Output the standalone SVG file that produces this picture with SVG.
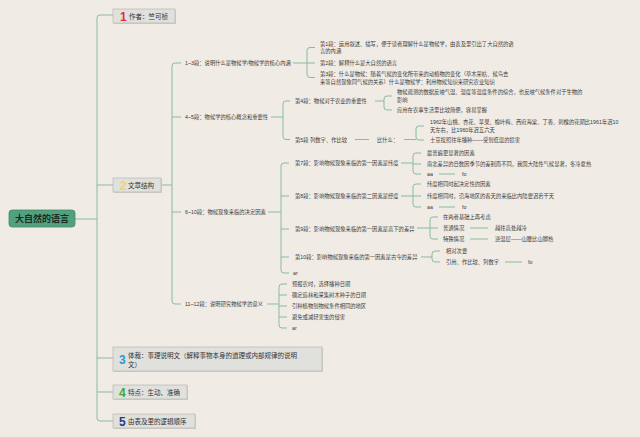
<svg xmlns="http://www.w3.org/2000/svg" width="640" height="437" viewBox="0 0 640 437">
<style>
text{font-family:"Liberation Sans","Noto Sans CJK SC",sans-serif;dominant-baseline:central;fill:#3a3a3a}
.s{font-size:5.3px}
.m{font-size:6.5px;fill:#333}
.n{font-size:12px;font-weight:bold}
.c path{fill:none;stroke:#86bd9f;stroke-width:1}
.box{fill:#e0e0dd;stroke:#bcbcb8;stroke-width:0.8}
.sh{fill:#cfcdc7}
</style>
<rect width="640" height="437" fill="#f0ece5"/>
<g class="c" id="connectors">
<path d="M75 219H97"/>
<path d="M113 15H100Q97 15 97 18V418Q97 421 100 421H113M97 185H113M97 358H113M97 392H113"/>
<path d="M161 185H172"/>
<path d="M181 63H175Q172 63 172 66V301Q172 304 175 304H181M172 117H181M172 212H181"/>
<path d="M293 63H307"/>
<path d="M315 47.5H310Q307 47.5 307 50.5V74.5Q307 77.5 310 77.5H315M307 63H315"/>
<path d="M271 117H283"/>
<path d="M290 101H286Q283 101 283 104V136.5Q283 139.5 286 139.5H290"/>
<path d="M375 101H384"/>
<path d="M392 96H387Q384 96 384 99V107Q384 110 387 110H392"/>
<path d="M355 139.5H369M404 139.5H416"/>
<path d="M424 126H419Q416 126 416 129V137Q416 140 419 140H424"/>
<path d="M268 212H281"/>
<path d="M289 163H284Q281 163 281 166V270Q281 273 284 273H289M281 196H289M281 229H289M281 257H289"/>
<path d="M401 163H413"/>
<path d="M421 153H416Q413 153 413 156V171Q413 174 416 174H421M413 164H421"/>
<path d="M439 174H455"/>
<path d="M401 196H413"/>
<path d="M421 184H416Q413 184 413 187V204Q413 207 416 207H421M413 196H421"/>
<path d="M439 207H455"/>
<path d="M417 228H430"/>
<path d="M438 217H433Q430 217 430 220V236Q430 239 433 239H438M430 228H438"/>
<path d="M470 228H488M470 239H488"/>
<path d="M421 257H432"/>
<path d="M440 251H435Q432 251 432 254V259Q432 262 435 262H440"/>
<path d="M505 262H522"/>
<path d="M267 304H279"/>
<path d="M287 284H282Q279 284 279 287V325Q279 328 282 328H287M279 295H287M279 306H287M279 317H287"/>
</g>
<g id="root">
<rect x="9" y="210" width="66" height="17" rx="3" fill="#52a07e" stroke="#418c6b" stroke-width="0.8"/>
<text x="42" y="219" text-anchor="middle" style="font-size:9px;font-weight:bold;fill:#1b2a22">大自然的语言</text>
</g>
<g id="b1">
<rect class="sh" x="114" y="10" width="62" height="14"/>
<rect class="box" x="113" y="9" width="62" height="14"/>
<text class="n" x="120" y="16.5" style="fill:#e52b3d">1</text>
<text class="m" x="129" y="16">作者：竺可桢</text>
</g>
<g id="b2">
<rect class="sh" x="114" y="179" width="48" height="14"/>
<rect class="box" x="113" y="178" width="48" height="14"/>
<text class="n" x="120" y="185.5" style="fill:#f2d46b">2</text>
<text class="m" x="128" y="185">文章结构</text>
</g>
<g id="b3">
<rect class="sh" x="114" y="348" width="209" height="24"/>
<rect class="box" x="113" y="347" width="209" height="24"/>
<text class="n" x="119" y="360" style="fill:#2c97d8">3</text>
<text class="m" x="128" y="355">体裁：事理说明文（解释事物本身的道理或内部规律的说明</text>
<text class="m" x="128" y="364">文）</text>
</g>
<g id="b4">
<rect class="sh" x="114" y="386" width="74" height="14"/>
<rect class="box" x="113" y="385" width="74" height="14"/>
<text class="n" x="119" y="392.5" style="fill:#3ea83a">4</text>
<text class="m" x="128" y="392">特点：生动、准确</text>
</g>
<g id="b5">
<rect class="sh" x="114" y="415" width="82" height="14"/>
<rect class="box" x="113" y="414" width="82" height="14"/>
<text class="n" x="119" y="421.5" style="fill:#1f3c8c">5</text>
<text class="m" x="128" y="421">由表及里的逻辑顺序</text>
</g>
<g id="p13">
<text class="s" x="185" y="63">1~3段：说明什么是物候学/物候学的核心内涵</text>
<text class="s" x="320" y="44">第1段：运用叙述、描写，便于读者理解什么是物候学，由表及里引出了大自然的语</text>
<text class="s" x="320" y="51">言的内涵</text>
<text class="s" x="320" y="63">第2段：解释什么是大自然的语言</text>
<text class="s" x="320" y="73.5">第3段：什么是物候：随着气候的变化所带来的动植物的变化（草木荣枯、候鸟去</text>
<text class="s" x="320" y="81.5">来等自然现象同气候的关系）什么是物候学：利用物候知识来研究农业知识</text>
</g>
<g id="p45">
<text class="s" x="185" y="117">4~5段：物候学的核心概念和重要性</text>
<text class="s" x="295" y="101">第4段：物候对于农业的重要性</text>
<text class="s" x="397" y="92">物候观测的数据反映气温、湿度等温度条件的综合，也反映气候条件对于生物的</text>
<text class="s" x="397" y="100">影响</text>
<text class="s" x="397" y="110">应用在农事生活里比较简便，容易掌握</text>
<text class="s" x="295" y="139.5">第5段 列数字、作比较</text>
<text class="s" x="377" y="139.5">比什么：</text>
<text class="s" x="430" y="122">1962年山桃、杏花、苹果、榆叶梅、西府海棠、丁香、刺槐的花期比1961年迟10</text>
<text class="s" x="430" y="129.5">天左右，比1960年迟五六天</text>
<text class="s" x="430" y="140">土豆按照往年播种——受到低温的损害</text>
</g>
<g id="p610">
<text class="s" x="185" y="212">6~10段：物候现象来临的决定因素</text>
<text class="s" x="295" y="163">第7段：影响物候现象来临的第一因素是纬度</text>
<text class="s" x="427" y="153">最普遍更显著的因素</text>
<text class="s" x="427" y="164">南北差异的日数因季节的差别而不同，我国大陆性气候显著，冬冷夏热</text>
<text class="s" x="427" y="174">aa</text>
<text class="s" x="462" y="174">fo</text>
<text class="s" x="295" y="196">第8段：影响物候现象来临的第二因素是经度</text>
<text class="s" x="427" y="184">纬度相同时起决定性的因素</text>
<text class="s" x="427" y="196">纬度相同时，沿海地区的春天的来临比内陆要迟若干天</text>
<text class="s" x="427" y="207">aa</text>
<text class="s" x="462" y="207">fo</text>
<text class="s" x="295" y="229">第9段：影响物候现象来临的第一因素是高下的差异</text>
<text class="s" x="443" y="217">在两者基础上再考虑</text>
<text class="s" x="443" y="228">普通情况</text>
<text class="s" x="495" y="228">越往高处越冷</text>
<text class="s" x="443" y="239">特殊情况</text>
<text class="s" x="495" y="239">逆温层——山腰比山脚热</text>
<text class="s" x="295" y="257">第10段：影响物候现象来临的第一因素是古今的差异</text>
<text class="s" x="446" y="251">相对次要</text>
<text class="s" x="446" y="262">引用、作比较、列数字</text>
<text class="s" x="528" y="262">fo</text>
<text class="s" x="293" y="273">ar</text>
</g>
<g id="p1112">
<text class="s" x="185" y="304">11~12段：说明研究物候学的意义</text>
<text class="s" x="292" y="284">预报农时，选择播种日期</text>
<text class="s" x="292" y="295">确定造林和采集树木种子的日期</text>
<text class="s" x="292" y="306">引种植物到物候条件相同的地区</text>
<text class="s" x="292" y="317">避免或减轻害虫的侵害</text>
<text class="s" x="292" y="328">ar</text>
</g>
</svg>
